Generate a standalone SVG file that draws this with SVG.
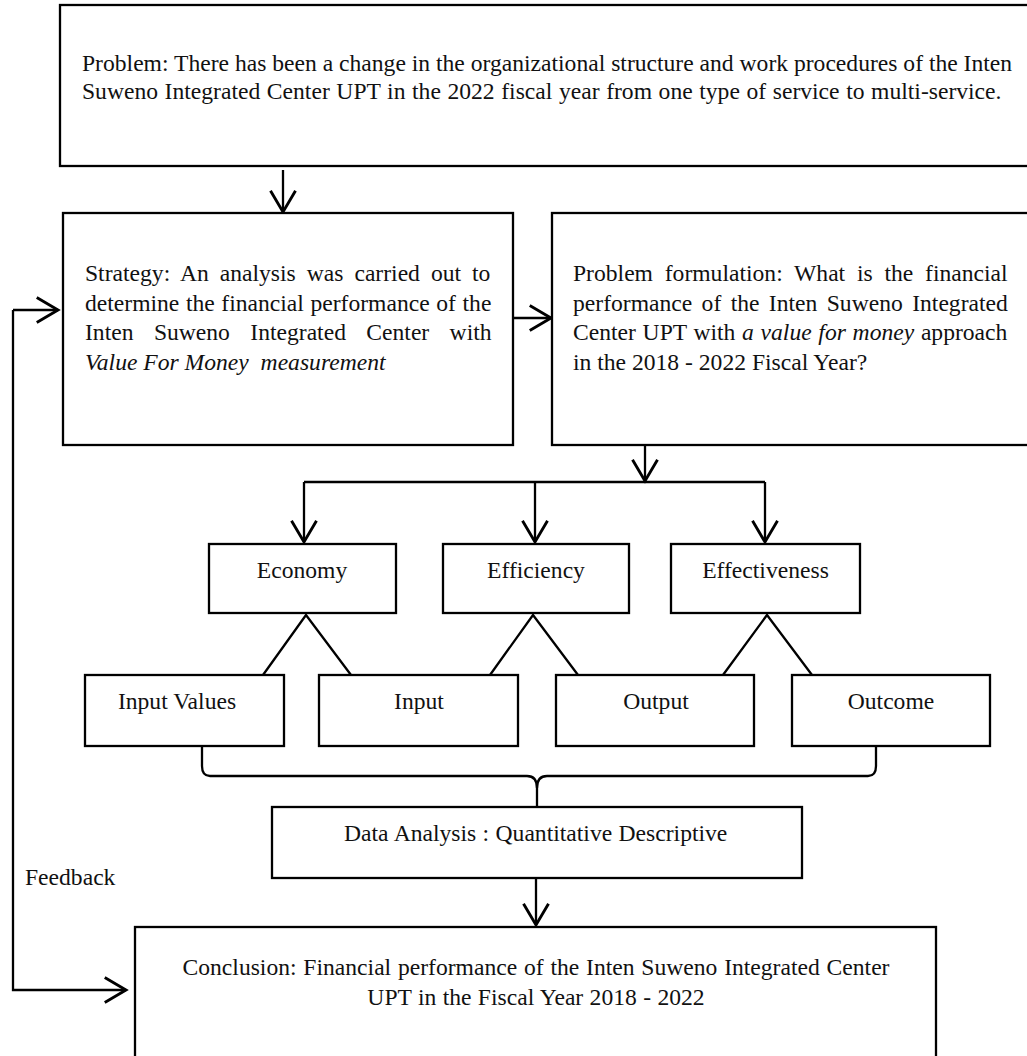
<svg xmlns="http://www.w3.org/2000/svg" width="1027" height="1056" viewBox="0 0 1027 1056">
<style>
.box{fill:#fff;stroke:#000;stroke-width:2.3}
.t{font-family:"Liberation Serif","Times New Roman",serif;font-size:23.6px;fill:#111}
.c{text-anchor:middle}
.i{font-style:italic}
.ln{fill:none;stroke:#000;stroke-width:2.3}
</style>
<defs>
<marker id="ah" markerUnits="userSpaceOnUse" markerWidth="30" markerHeight="30" viewBox="-20 -12 22 24" refX="0" refY="0" orient="auto">
<path d="M-17,-10 L0,0 L-17,10" fill="none" stroke="#000" stroke-width="2.3"/>
</marker>
</defs>
<rect width="1027" height="1056" fill="#fff"/>
<g id="connectors">
<path class="ln" d="M283,170 L283,212" marker-end="url(#ah)"/>
<path class="ln" d="M513,318 L551,318" marker-end="url(#ah)"/>
<path class="ln" d="M645,445 L645,481" marker-end="url(#ah)"/>
<path class="ln" d="M304,482 L765,482"/>
<path class="ln" d="M304,482 L304,542" marker-end="url(#ah)"/>
<path class="ln" d="M535,482 L535,542" marker-end="url(#ah)"/>
<path class="ln" d="M765,482 L765,542" marker-end="url(#ah)"/>
<path class="ln" d="M263,675 L306,615 L351,675"/>
<path class="ln" d="M490,675 L533,615 L578,675"/>
<path class="ln" d="M723,675 L767,615 L812,675"/>
<path class="ln" d="M202,746 L202,766 Q202,776 210,776 L527,776 Q537,776 537,788 L537,806"/>
<path class="ln" d="M876,746 L876,766 Q876,776 868,776 L547,776 Q537,776 537,788"/>
<path class="ln" d="M536,878 L536,925" marker-end="url(#ah)"/>
<path class="ln" d="M13,310 L13,990 L126,990" marker-end="url(#ah)"/>
<path class="ln" d="M13,310 L58,310" marker-end="url(#ah)"/>
<text class="t" x="25" y="885">Feedback</text>
</g>
<g id="problem">
<rect class="box" x="60" y="5" width="975" height="161"/>
<text class="t" x="82" y="71">Problem: There has been a change in the organizational structure and work procedures of the Inten</text>
<text class="t" x="82" y="99" word-spacing="0.7">Suweno Integrated Center UPT in the 2022 fiscal year from one type of service to multi-service.</text>
</g>
<g id="strategy">
<rect class="box" x="63" y="213" width="450" height="232"/>
<text class="t" x="85" y="281" word-spacing="5.1">Strategy: An analysis was carried out to</text>
<text class="t" x="85" y="310.5" word-spacing="0.7">determine the financial performance of the</text>
<text class="t" x="85" y="340" word-spacing="14.5">Inten Suweno Integrated Center with</text>
<text class="t i" x="85" y="369.5" xml:space="preserve">Value For Money  measurement</text>
</g>
<g id="formulation">
<rect class="box" x="552" y="213" width="483" height="232"/>
<text class="t" x="573" y="281" word-spacing="5.9">Problem formulation: What is the financial</text>
<text class="t" x="573" y="310.5" word-spacing="3.5">performance of the Inten Suweno Integrated</text>
<text class="t" x="573" y="340" word-spacing="0.8">Center UPT with <tspan class="i">a value for money</tspan> approach</text>
<text class="t" x="573" y="369.5">in the 2018 - 2022 Fiscal Year?</text>
</g>
<g id="economy">
<rect class="box" x="209" y="544" width="187" height="69"/>
<text class="t c" x="302" y="578">Economy</text>
</g>
<g id="efficiency">
<rect class="box" x="443" y="544" width="186" height="69"/>
<text class="t c" x="536" y="578">Efficiency</text>
</g>
<g id="effectiveness">
<rect class="box" x="671" y="544" width="189" height="69"/>
<text class="t c" x="765.5" y="578">Effectiveness</text>
</g>
<g id="input-values">
<rect class="box" x="85" y="675" width="199" height="71"/>
<text class="t c" x="177" y="709">Input Values</text>
</g>
<g id="input">
<rect class="box" x="319" y="675" width="199" height="71"/>
<text class="t c" x="419" y="709">Input</text>
</g>
<g id="output">
<rect class="box" x="556" y="675" width="198" height="71"/>
<text class="t c" x="656" y="709">Output</text>
</g>
<g id="outcome">
<rect class="box" x="792" y="675" width="198" height="71"/>
<text class="t c" x="891" y="709">Outcome</text>
</g>
<g id="data-analysis">
<rect class="box" x="272" y="807" width="530" height="71"/>
<text class="t" x="344" y="841" word-spacing="0.5">Data Analysis : Quantitative Descriptive</text>
</g>
<g id="conclusion">
<rect class="box" x="135" y="927" width="801" height="140"/>
<text class="t c" x="536" y="975" word-spacing="0.9">Conclusion: Financial performance of the Inten Suweno Integrated Center</text>
<text class="t c" x="536" y="1005" word-spacing="0.5">UPT in the Fiscal Year 2018 - 2022</text>
</g>
</svg>
